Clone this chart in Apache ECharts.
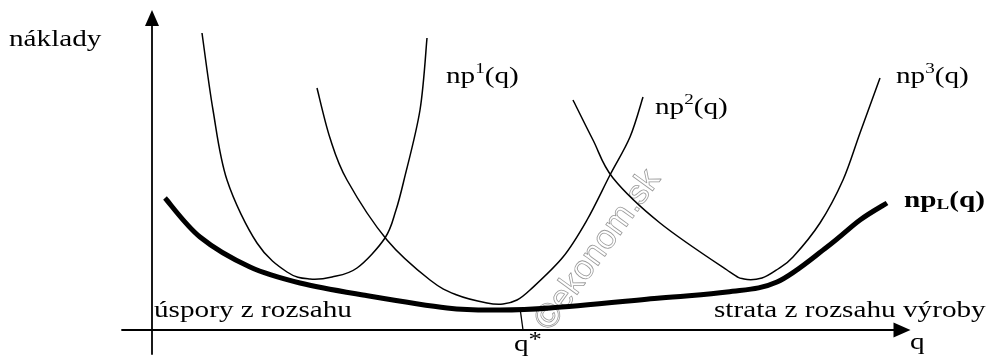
<!DOCTYPE html>
<html>
<head>
<meta charset="utf-8">
<script src="https://cdn.jsdelivr.net/npm/echarts@6/dist/echarts.min.js"></script>
<style>
  html, body { margin: 0; padding: 0; background: #fff; }
  #chart { width: 989px; height: 356px; }
</style>
</head>
<body>
<div id="chart"></div>
<script>
// krivky nakladov: [q, naklady], odcitane z obrazku (jednotky ~ pixely od pociatku)
const np1 = [[50, 297], [61, 220], [75, 150], [105, 87], [135, 58], [158, 51], [180, 53],
  [205, 62], [233, 92], [244, 120], [252, 150], [268, 220], [275, 292]];
const np2 = [[165, 242], [178, 192], [195, 150], [235, 90], [278, 50], [305, 35], [335, 27],
  [351, 26], [365, 30], [378, 40], [411, 73], [435, 110], [458, 155], [478, 193], [491, 233]];
const np3 = [[421, 230], [441, 190], [461, 152], [508, 107], [575, 60], [592, 51], [610, 52],
  [626, 61], [641, 73], [668, 107], [691, 150], [708, 197], [728, 252]];
const npL = [[13, 132], [48, 93], [98, 63], [148, 47], [211, 35], [295, 22], [348, 20],
  [398, 22], [508, 32], [575, 38], [625, 48], [675, 83], [708, 110], [735, 127]];
const qStar = [[368, 22], [371, 0]];

const SERIF = '"Liberation Serif", "Times New Roman", serif';
const SX = 1.27; // text v predlohe je vodorovne roztiahnuty

function label(text, x, y, size, rich, bold) {
  return {
    type: 'text', x: x, y: y, scaleX: SX, silent: true,
    style: {
      text: text,
      font: (bold ? 'bold ' : '') + size + 'px ' + SERIF,
      fill: '#000',
      textAlign: 'left',
      textVerticalAlign: 'middle',
      rich: rich || {}
    }
  };
}

// hladka krivka cez body (Catmull-Rom -> Bezier), body prepocitane cez osi grafu
function splinePath(pts) {
  let d = 'M' + pts[0][0] + ',' + pts[0][1];
  for (let i = 0; i < pts.length - 1; i++) {
    const p0 = pts[i - 1] || pts[i];
    const p1 = pts[i];
    const p2 = pts[i + 1];
    const p3 = pts[i + 2] || p2;
    const c1x = p1[0] + (p2[0] - p0[0]) / 6;
    const c1y = p1[1] + (p2[1] - p0[1]) / 6;
    const c2x = p2[0] - (p3[0] - p1[0]) / 6;
    const c2y = p2[1] - (p3[1] - p1[1]) / 6;
    d += 'C' + c1x + ',' + c1y + ',' + c2x + ',' + c2y + ',' + p2[0] + ',' + p2[1];
  }
  return d;
}

function curve(data, width) {
  return {
    type: 'custom', data: data, silent: true, clip: false,
    renderItem: function (params, api) {
      if (params.dataIndex !== 0) return null;
      const pts = data.map(function (p) { return api.coord(p); });
      return {
        type: 'path',
        shape: { pathData: splinePath(pts) },
        style: { fill: 'none', stroke: '#000', lineWidth: width, lineJoin: 'round' }
      };
    }
  };
}

const chart = echarts.init(document.getElementById('chart'));

const supRich = {
  a: { fontFamily: SERIF, fontSize: 23, lineHeight: 26, verticalAlign: 'bottom' },
  s: { fontFamily: SERIF, fontSize: 15, lineHeight: 26, verticalAlign: 'top' }
};
const starRich = {
  a: { fontFamily: SERIF, fontSize: 23, lineHeight: 26, verticalAlign: 'bottom' },
  s: { fontFamily: SERIF, fontSize: 21, lineHeight: 26, verticalAlign: 'top' }
};
const subRich = {
  a: { fontFamily: SERIF, fontSize: 23, fontWeight: 'bold', lineHeight: 26, verticalAlign: 'bottom' },
  l: { fontFamily: SERIF, fontSize: 15, fontWeight: 'bold', lineHeight: 26, verticalAlign: 'bottom' }
};

chart.setOption({
  animation: false,
  grid: { left: 122, right: 87, top: 18, bottom: 2 },
  xAxis: {
    type: 'value', min: -30, max: 750,
    axisLine: {
      onZero: true, symbol: ['none', 'triangle'], symbolSize: [15, 17],
      lineStyle: { color: '#000', width: 1.8 }
    },
    axisTick: { show: false }, axisLabel: { show: false }, splitLine: { show: false }
  },
  yAxis: {
    type: 'value', min: -24, max: 312,
    axisLine: {
      onZero: true, symbol: ['none', 'triangle'], symbolSize: [14, 16],
      lineStyle: { color: '#000', width: 1.8 }
    },
    axisTick: { show: false }, axisLabel: { show: false }, splitLine: { show: false }
  },
  series: [
    curve(np1, 1.5),
    curve(np2, 1.5),
    curve(np3, 1.5),
    curve(npL, 5),
    { type: 'line', data: qStar, showSymbol: false, silent: true, lineStyle: { color: '#000', width: 1.3 } }
  ],
  graphic: [
    label('náklady', 9, 40, 23),
    label('{a|np}{s|1}{a|(q)}', 446, 75, 23, supRich),
    label('{a|np}{s|2}{a|(q)}', 655, 106, 23, supRich),
    label('{a|np}{s|3}{a|(q)}', 896, 75, 23, supRich),
    label('{a|np}{l|L}{a|(q)}', 904, 200, 23, subRich, true),
    label('úspory z rozsahu', 154, 311, 23),
    label('strata z rozsahu výroby', 714, 311, 23),
    label('q', 910, 343, 23),
    label('{a|q}{s|*}', 514, 343, 23, starRich),
    {
      type: 'text', x: 598, y: 250, rotation: 54 * Math.PI / 180, silent: true,
      style: {
        text: '©ekonom.sk',
        font: '34px "Liberation Sans", Arial, sans-serif',
        fill: 'rgba(255,255,255,0)',
        stroke: '#9a9a9a',
        lineWidth: 0.8,
        textAlign: 'center',
        textVerticalAlign: 'middle'
      }
    }
  ]
});
</script>
</body>
</html>
